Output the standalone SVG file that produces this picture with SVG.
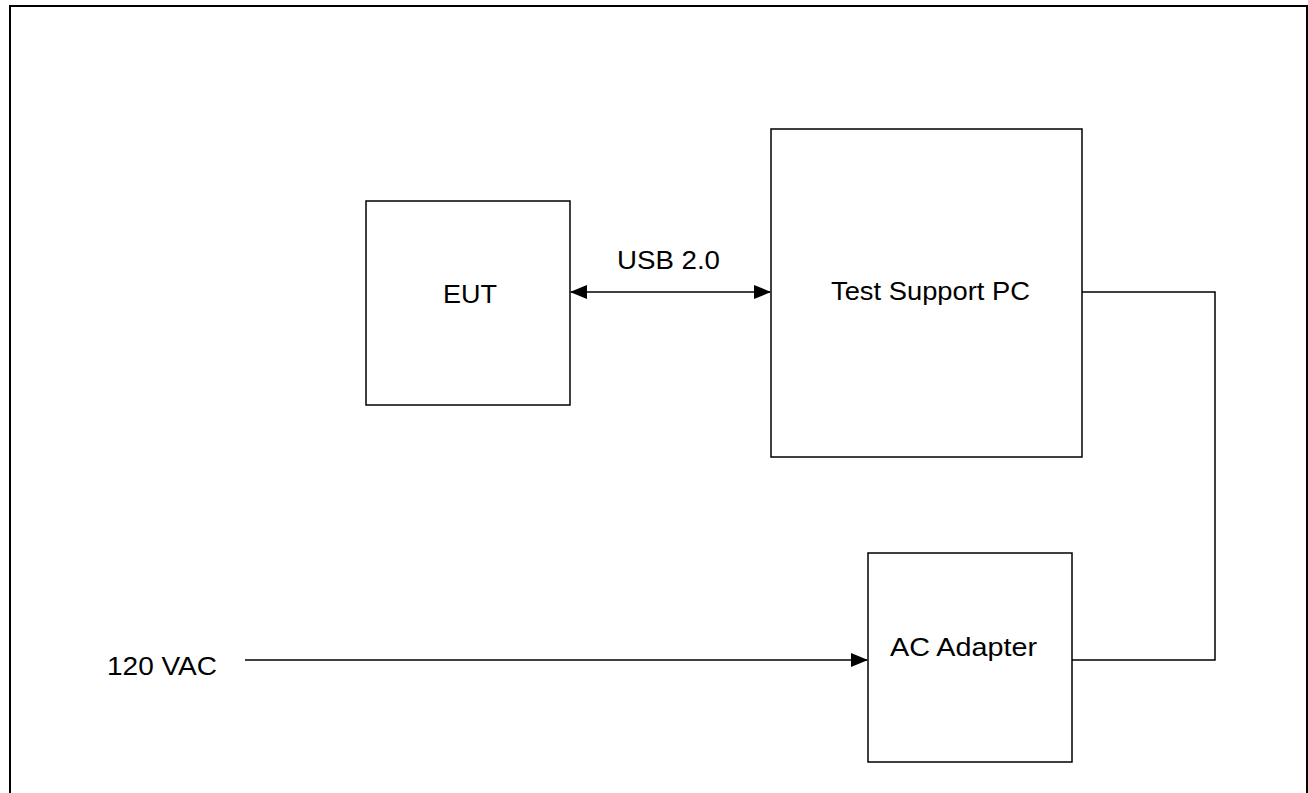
<svg xmlns="http://www.w3.org/2000/svg" width="1308" height="793" viewBox="0 0 1308 793">
<defs>
<style>
.box{fill:#fff;stroke:#000;stroke-width:1.5}
.ln{fill:none;stroke:#000;stroke-width:1.5}
.t{font-family:"Liberation Sans",Arial,sans-serif;font-size:25px;fill:#000}
</style>
<marker id="ah" markerWidth="17" markerHeight="14" refX="16" refY="7" orient="auto-start-reverse" markerUnits="userSpaceOnUse">
<path d="M0,0 L17,7 L0,14 Z" fill="#000"/>
</marker>
</defs>
<rect width="1308" height="793" fill="#fff"/>
<path d="M10,793 V6 H1307 V793" fill="none" stroke="#000" stroke-width="2"/>
<g id="connectors">
<line class="ln" x1="571" y1="292" x2="770" y2="292" marker-start="url(#ah)" marker-end="url(#ah)"/>
<line class="ln" x1="245" y1="660" x2="867" y2="660" marker-end="url(#ah)"/>
<polyline class="ln" points="1082,292 1215,292 1215,660 1072,660"/>
<text class="t" x="617" y="269" textLength="103" lengthAdjust="spacingAndGlyphs">USB 2.0</text>
</g>
<g id="eut">
<rect class="box" x="366" y="201" width="204" height="204"/>
<text class="t" x="443" y="303" textLength="54" lengthAdjust="spacingAndGlyphs">EUT</text>
</g>
<g id="pc">
<rect class="box" x="771" y="129" width="311" height="328"/>
<text class="t" x="831" y="300" textLength="199" lengthAdjust="spacingAndGlyphs">Test Support PC</text>
</g>
<g id="adapter">
<rect class="box" x="868" y="553" width="204" height="209"/>
<text class="t" x="890" y="656" textLength="147" lengthAdjust="spacingAndGlyphs">AC Adapter</text>
</g>
<g id="vac">
<text class="t" x="107" y="675" textLength="110" lengthAdjust="spacingAndGlyphs">120 VAC</text>
</g>
</svg>
